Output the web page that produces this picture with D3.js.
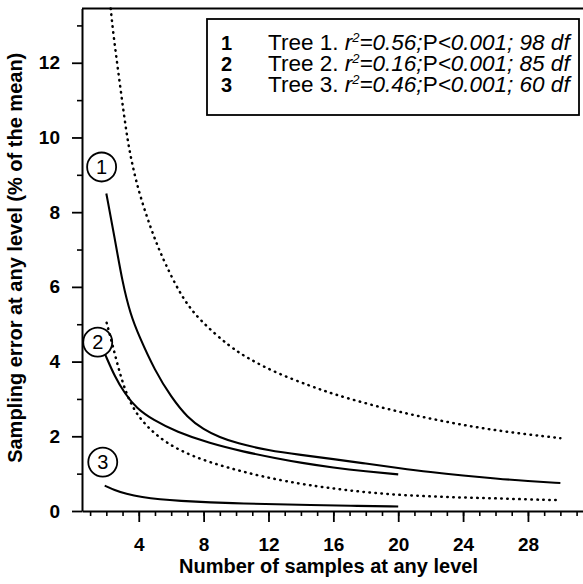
<!DOCTYPE html>
<html>
<head>
<meta charset="utf-8">
<script src="https://cdn.jsdelivr.net/npm/d3@7"></script>
<style>
  html, body { margin: 0; padding: 0; background: #fff; }
  svg { display: block; }
  text { font-family: "Liberation Sans", Arial, Helvetica, sans-serif; fill: #000; }
</style>
</head>
<body>
<svg id="chart" width="583" height="584"></svg>
<script>
// ---------------- data ----------------
const tree1X = [2, 2.5, 3, 3.5, 4, 5, 6, 7, 8, 9, 10, 12, 14, 16, 18, 20, 22, 24, 26, 28, 30];
const tree1Y = [8.5, 7.35, 6.1, 5.25, 4.7, 3.75, 3.05, 2.5, 2.18, 1.97, 1.82, 1.62, 1.5, 1.39, 1.27, 1.15, 1.04, 0.95, 0.87, 0.8, 0.75];

const upperX = [2.27, 2.42, 2.83, 3.24, 3.57, 4.1, 5.0, 5.62, 6.65, 7.76, 9.6, 10.8, 12.5, 14.5, 16, 18, 20, 22, 24, 26, 28, 30];
const upperY = [13.45, 12.8, 11.45, 10.11, 9.31, 8.38, 7.25, 6.63, 5.72, 5.1, 4.4, 4.07, 3.69, 3.36, 3.13, 2.88, 2.66, 2.47, 2.3, 2.16, 2.05, 1.95];

const lowerX = [2.02, 2.41, 2.93, 3.55, 4.47, 5.71, 7.35, 9.4, 11.5, 14, 16, 18, 20, 22, 24, 26, 28, 30];
const lowerY = [5.04, 4.40, 3.51, 2.79, 2.26, 1.81, 1.45, 1.17, 0.93, 0.72, 0.6, 0.5, 0.43, 0.39, 0.36, 0.34, 0.31, 0.29];

const tree2X = [1.94, 2.52, 3.13, 3.86, 4.88, 6.32, 8.38, 10.43, 12.49, 14, 16, 18, 20];
const tree2Y = [4.18, 3.60, 3.15, 2.75, 2.44, 2.12, 1.81, 1.59, 1.41, 1.29, 1.16, 1.06, 0.98];

const tree3X = [1.9, 2.5, 3.2, 4.2, 5.3, 6.5, 8.4, 10.5, 12.5, 14.5, 17, 20];
const tree3Y = [0.68, 0.56, 0.46, 0.37, 0.31, 0.27, 0.23, 0.20, 0.18, 0.16, 0.14, 0.12];

const xMajorTicks = [4, 8, 12, 16, 20, 24, 28];
const xMinorTicks = d3.range(1, 32);
const yMajorTicks = [0, 2, 4, 6, 8, 10, 12];
const yMinorTicks = [1, 3, 5, 7, 9, 11, 13];

const circleLabels = ["1", "2", "3"];
const circleX = [1.71, 1.47, 1.78];
const circleY = [9.21, 4.52, 1.31];

const legendNumbers = ["1", "2", "3"];
const legendTrees = ["Tree 1. ", "Tree 2. ", "Tree 3. "];
const legendR2 = ["=0.56;", "=0.16;", "=0.46;"];
const legendDf = ["<0.001; 98 df", "<0.001; 85 df", "<0.001; 60 df"];

const xTitle = "Number of samples at any level";
const yTitle = "Sampling error at any level (% of the mean)";

// ---------------- layout ----------------
const svg = d3.select("#chart");
const mLeft = 82, mRight = 584.7, mTop = 8.6, mBottom = 511;

const x = d3.scaleLinear().domain([0.5, 31.5]).range([mLeft, mRight]);
const y = d3.scaleLinear().domain([0, 13.45]).range([mBottom, mTop]);

// top frame line
svg.append("line")
  .attr("x1", mLeft).attr("x2", 583).attr("y1", y(13.45)).attr("y2", y(13.45))
  .attr("stroke", "#000").attr("stroke-width", 2);

// x axis minor
const gxMinor = svg.append("g").attr("transform", `translate(0,${mBottom})`)
  .call(d3.axisBottom(x).tickValues(xMinorTicks).tickSize(5).tickSizeOuter(0).tickFormat(""));
gxMinor.select(".domain").attr("stroke-width", 2);
gxMinor.selectAll(".tick line").attr("stroke-width", 1.6);

// x axis major
const gxMajor = svg.append("g").attr("transform", `translate(0,${mBottom})`)
  .call(d3.axisBottom(x).tickValues(xMajorTicks).tickSize(11).tickSizeOuter(0));
gxMajor.select(".domain").remove();
gxMajor.selectAll(".tick line").attr("stroke-width", 1.8);
gxMajor.selectAll(".tick text")
  .attr("y", 40).attr("dy", 0)
  .style("font-size", "19px").style("font-weight", "bold")
  .style("font-family", '"Liberation Sans", Arial, sans-serif');

// y axis minor
const gyMinor = svg.append("g").attr("transform", `translate(${mLeft},0)`)
  .call(d3.axisLeft(y).tickValues(yMinorTicks).tickSize(5).tickSizeOuter(0).tickFormat(""));
gyMinor.select(".domain").attr("stroke-width", 2);
gyMinor.selectAll(".tick line").attr("stroke-width", 1.6);

// y axis major
const gyMajor = svg.append("g").attr("transform", `translate(${mLeft},0)`)
  .call(d3.axisLeft(y).tickValues(yMajorTicks).tickSize(10).tickPadding(12).tickSizeOuter(0));
gyMajor.select(".domain").remove();
gyMajor.selectAll(".tick line").attr("stroke-width", 1.8);
gyMajor.selectAll(".tick text")
  .style("font-size", "19px").style("font-weight", "bold")
  .style("font-family", '"Liberation Sans", Arial, sans-serif');

// axis titles
svg.append("text")
  .attr("x", (mLeft + 583) / 2 - 4).attr("y", 573)
  .attr("text-anchor", "middle")
  .style("font-size", "20px").style("font-weight", "bold")
  .text(xTitle);

svg.append("text")
  .attr("transform", `translate(22,${(mTop + mBottom) / 2 - 2}) rotate(-90)`)
  .attr("text-anchor", "middle")
  .style("font-size", "20px").style("font-weight", "bold")
  .text(yTitle);

// curves
const line = d3.line().x(d => x(d[0])).y(d => y(d[1])).curve(d3.curveBasis);
const zip = (xs, ys) => xs.map((v, i) => [v, ys[i]]);

const series = [
  { pts: zip(upperX, upperY), dotted: true },
  { pts: zip(lowerX, lowerY), dotted: true },
  { pts: zip(tree1X, tree1Y), dotted: false },
  { pts: zip(tree2X, tree2Y), dotted: false },
  { pts: zip(tree3X, tree3Y), dotted: false }
];

svg.append("g").selectAll("path").data(series).join("path")
  .attr("d", d => line(d.pts))
  .attr("fill", "none")
  .attr("stroke", "#000")
  .attr("stroke-width", d => d.dotted ? 2.5 : 2.1)
  .attr("stroke-linecap", d => d.dotted ? "round" : "butt")
  .attr("stroke-dasharray", d => d.dotted ? "0.5 5.5" : null);

// circled labels
const cl = svg.append("g").selectAll("g").data(circleLabels).join("g")
  .attr("transform", (d, i) => `translate(${x(circleX[i])},${y(circleY[i])})`);
cl.append("circle").attr("r", 14.5).attr("fill", "none").attr("stroke", "#000").attr("stroke-width", 1.8);
cl.append("text").attr("text-anchor", "middle").attr("dy", "0.36em")
  .style("font-size", "20px").text(d => d);

// legend box
svg.append("rect")
  .attr("x", 207).attr("y", 19).attr("width", 372).attr("height", 96)
  .attr("fill", "#fff").attr("stroke", "#000").attr("stroke-width", 1.8);

// legend numbers (one text element)
const numText = svg.append("text").attr("x", 221).attr("y", 50)
  .style("font-size", "20px").style("font-weight", "bold");
numText.selectAll("tspan").data(legendNumbers).join("tspan")
  .attr("x", 221).attr("dy", (d, i) => i === 0 ? 0 : 21).text(d => d);

// legend descriptions (one text element)
const descText = svg.append("text").attr("x", 268).attr("y", 50).style("font-size", "22.5px");
legendNumbers.forEach((d, i) => {
  descText.append("tspan").attr("x", 268).attr("dy", i === 0 ? 0 : 21).text(legendTrees[i]);
  descText.append("tspan").style("font-style", "italic").text("r");
  descText.append("tspan").style("font-style", "italic").style("font-size", "13px").attr("dy", -8).text("2");
  descText.append("tspan").style("font-style", "italic").attr("dy", 8).text(legendR2[i]);
  descText.append("tspan").text("P");
  descText.append("tspan").style("font-style", "italic").text(legendDf[i]);
});
</script>
</body>
</html>
